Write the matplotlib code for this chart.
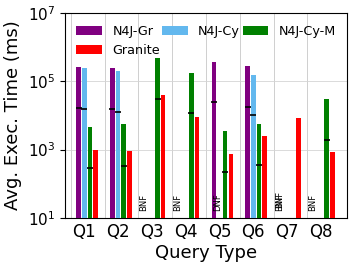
import numpy as np
import matplotlib

matplotlib.use("Agg")
import matplotlib.pyplot as plt

queries = ["Q1", "Q2", "Q3", "Q4", "Q5", "Q6", "Q7", "Q8"]
systems = ["N4J-Gr", "N4J-Cy", "N4J-Cy-M", "Granite"]
colors = ["purple", "#63b8ee", "green", "red"]

# mean exec time (ms); None = did not finish
gr_mean = [2.6e5, 2.4e5, None, None, 3.7e5, 2.9e5, None, None]
cy_mean = [2.5e5, 2.0e5, None, None, None, 1.55e5, None, None]
cym_mean = [4.7e3, 5.6e3, 4.7e5, 1.8e5, 3.4e3, 5.6e3, None, 3.0e4]
gra_mean = [980, 930, 4.0e4, 9.1e3, 730, 2.5e3, 8.3e3, 840]

# short black markers inside the bars
gr_mark = [1.6e4, 1.56e4, None, None, 2.5e4, 1.8e4, None, None]
cy_mark = [1.5e4, 1.3e4, None, None, None, 1.0e4, None, None]
cym_mark = [295, 340, 3.0e4, 1.15e4, 220, 355, None, 1.9e3]

# (query index, system index, label) for runs that did not finish
unfinished = [(2, 0, "BNF"), (3, 0, "BNF"), (4, 1, "DNF"),
              (6, 0, "BNF"), (6, 2, "BNF"), (7, 0, "BNF")]

means = [gr_mean, cy_mean, cym_mean, gra_mean]
marks = [gr_mark, cy_mark, cym_mark, None]

fig = plt.figure(figsize=(3.57, 2.71), dpi=100)
ax = fig.add_axes([0.182, 0.196, 0.79, 0.756])

x = np.arange(len(queries))
w = 0.167
handles = []
for k, (name, col) in enumerate(zip(systems, colors)):
    off = (k - 1) * w
    xs = [xi + off for xi, v in zip(x, means[k]) if v is not None]
    vs = [v for v in means[k] if v is not None]
    h = ax.bar(xs, vs, width=w * 0.8, color=col, label=name, zorder=3)
    handles.append(h)
    if marks[k] is not None:
        mx = [xi + off for xi, v in zip(x, marks[k]) if v is not None]
        mv = [v for v in marks[k] if v is not None]
        ax.plot(mx, mv, "_", color="black", markersize=4, mew=1.2, zorder=4)

# two labels share the Gr slot in Q7, slightly shifted vertically
for qi, si, lab in unfinished:
    xt = x[qi] - 0.07 + (si - 1) * w if si < 2 else x[qi] - w - 0.07
    yt = 16 if si < 2 else 19
    ax.text(xt, yt, lab, rotation=90, fontsize=6,
            ha="center", va="bottom", zorder=4)

ax.set_yscale("log")
ax.set_ylim(10, 1e7)
ax.set_yticks([1e1, 1e3, 1e5, 1e7])
ax.set_xlim(-0.57, 7.77)
ax.set_xticks(x)
ax.set_xticklabels(queries, fontsize=12)
ax.set_xticks(x - 0.4, minor=True)
ax.tick_params(axis="x", which="both", length=0)
ax.tick_params(axis="y", labelsize=11)
ax.grid(axis="y", which="both", color="#d4d4d4", linewidth=0.6, zorder=0)
ax.grid(axis="x", which="minor", color="#c8c8c8", linewidth=0.6, zorder=0)
ax.set_axisbelow(True)
ax.set_xlabel("Query Type", fontsize=13, labelpad=2)
ax.set_ylabel("Avg. Exec. Time (ms)", fontsize=13)

# row-wise legend order: Gr, Cy, Cy-M / Granite
order = [0, 3, 1, 2]
ax.legend([handles[i] for i in order], [systems[i] for i in order],
          loc="upper left", ncol=3, frameon=False, fontsize=9.2,
          handlelength=2.0, handletextpad=0.8, columnspacing=0.2)

fig.savefig("out.png", dpi=100)
